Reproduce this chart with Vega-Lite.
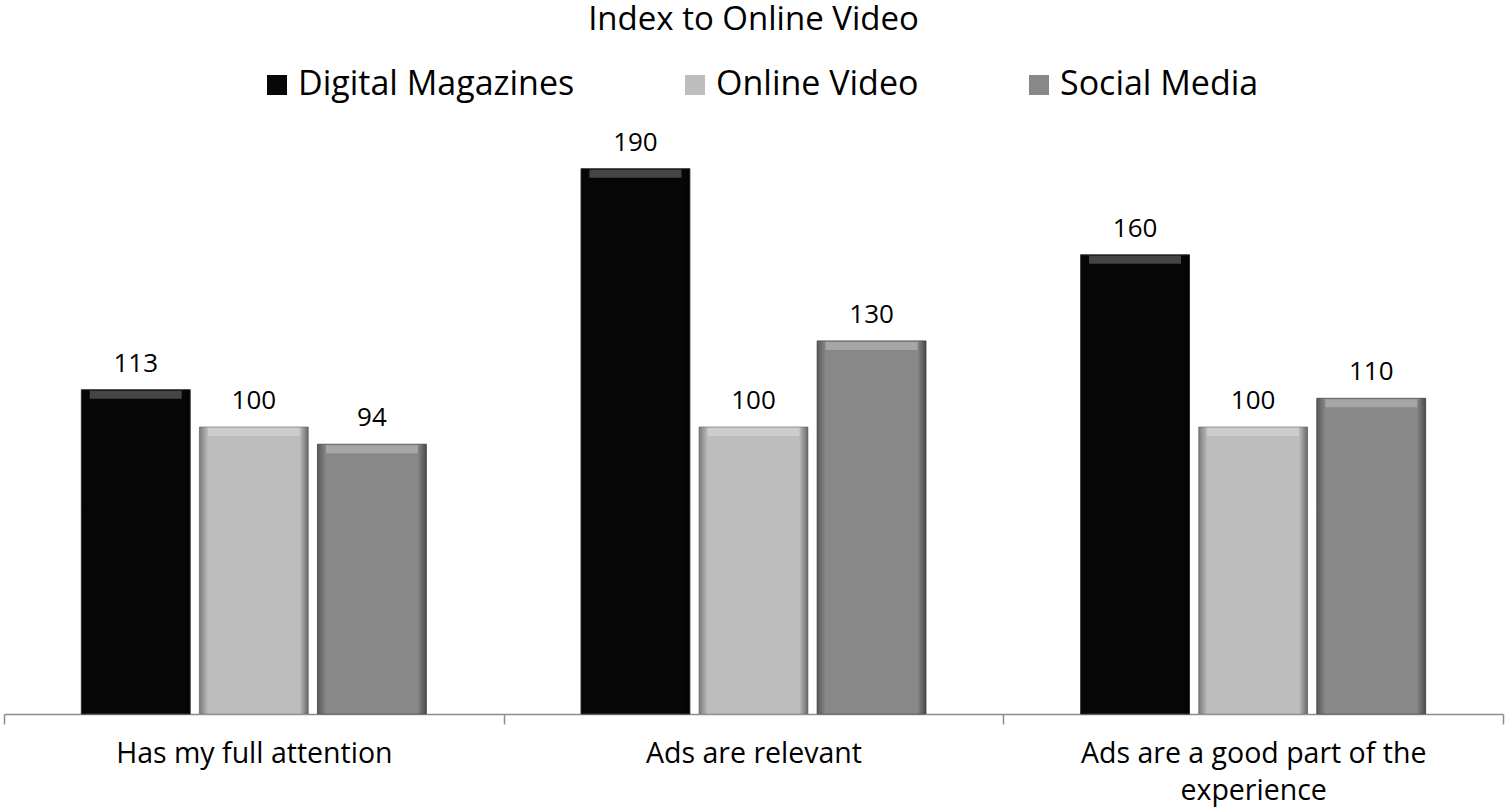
{
  "$schema": "https://vega.github.io/schema/vega-lite/v6.json",
  "width": 1499,
  "height": 574,
  "autosize": "none",
  "padding": {"left": 4, "top": 140, "right": 2, "bottom": 98},
  "background": "white",
  "title": {
    "text": "Index to Online Video",
    "anchor": "middle",
    "frame": "group",
    "font": "Open Sans",
    "fontSize": 33,
    "fontWeight": "normal",
    "color": "#000000",
    "offset": 31
  },
  "data": {
    "values": [
      {"category": "Has my full attention", "series": "Digital Magazines", "value": 113},
      {"category": "Has my full attention", "series": "Online Video", "value": 100},
      {"category": "Has my full attention", "series": "Social Media", "value": 94},
      {"category": "Ads are relevant", "series": "Digital Magazines", "value": 190},
      {"category": "Ads are relevant", "series": "Online Video", "value": 100},
      {"category": "Ads are relevant", "series": "Social Media", "value": 130},
      {"category": "Ads are a good part of the experience", "series": "Digital Magazines", "value": 160},
      {"category": "Ads are a good part of the experience", "series": "Online Video", "value": 100},
      {"category": "Ads are a good part of the experience", "series": "Social Media", "value": 110}
    ]
  },
  "encoding": {
    "x": {
      "field": "category",
      "type": "nominal",
      "sort": ["Has my full attention", "Ads are relevant", "Ads are a good part of the experience"],
      "scale": {"paddingInner": 0, "paddingOuter": 0},
      "axis": {
        "title": null,
        "labelAngle": 0,
        "labelFont": "Open Sans",
        "labelFontSize": 28.5,
        "labelColor": "#000000",
        "labelPadding": 15,
        "labelLineHeight": 37,
        "labelLimit": 700,
        "labelExpr": "datum.label == 'Ads are a good part of the experience' ? ['Ads are a good part of the', 'experience'] : datum.label",
        "domainColor": "#8c8c8c",
        "domainWidth": 1.5,
        "tickColor": "#8c8c8c",
        "tickWidth": 1.5,
        "tickSize": 10,
        "tickBand": "extent"
      }
    },
    "xOffset": {
      "field": "series",
      "type": "nominal",
      "scale": {"paddingInner": 0.078, "paddingOuter": 0.655}
    },
    "y": {
      "field": "value",
      "type": "quantitative",
      "scale": {"domain": [0, 200]},
      "axis": null
    }
  },
  "layer": [
    {
      "mark": {"type": "bar", "strokeWidth": 1},
      "encoding": {
        "color": {
          "field": "series",
          "type": "nominal",
          "scale": {"domain": ["Digital Magazines", "Online Video", "Social Media"], "range": ["#070707", "#bdbdbd", "#888888"]},
          "legend": {
            "title": null,
            "orient": "none",
            "direction": "horizontal",
            "legendX": 256,
            "legendY": -72,
            "symbolType": "square",
            "symbolSize": 400,
            "symbolStrokeWidth": 0,
            "labelFont": "Open Sans",
            "labelFontSize": 34,
            "labelColor": "#000000",
            "labelLimit": 500,
            "labelOffset": 4,
            "columnPadding": 103,
            "symbolOffset": 0
          }
        },
        "stroke": {
          "field": "series",
          "type": "nominal",
          "scale": {"domain": ["Digital Magazines", "Online Video", "Social Media"], "range": ["#3a3a3a", "#9a9a9a", "#666666"]},
          "legend": null
        }
      }
    },
    {
      "mark": {
        "type": "bar",
        "fill": {
          "gradient": "linear",
          "x1": 0, "y1": 0, "x2": 1, "y2": 0,
          "stops": [
            {"offset": 0, "color": "rgba(0,0,0,0.35)"},
            {"offset": 0.08, "color": "rgba(0,0,0,0)"},
            {"offset": 0.92, "color": "rgba(0,0,0,0)"},
            {"offset": 1, "color": "rgba(0,0,0,0.45)"}
          ]
        }
      }
    },
    {
      "mark": {"type": "tick", "thickness": 8, "size": 92, "yOffset": 5, "color": "#ffffff", "opacity": 0.25},
      "encoding": {}
    },
    {
      "mark": {"type": "text", "baseline": "alphabetic", "dy": -18, "font": "Open Sans", "fontSize": 26, "color": "#000000"},
      "encoding": {
        "text": {"field": "value", "type": "quantitative"}
      }
    }
  ],
  "config": {
    "view": {"stroke": null}
  }
}
